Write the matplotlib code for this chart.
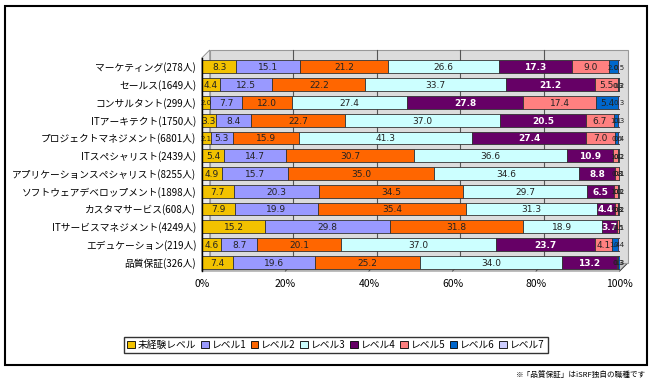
import numpy as np
import matplotlib
matplotlib.use("Agg")
import matplotlib.pyplot as plt
import matplotlib.transforms as mtransforms
from matplotlib.patches import Rectangle, Polygon

plt.rcParams['font.family'] = ['Noto Sans CJK JP', 'DejaVu Sans']

categories = [
    'マーケティング(278人)', 'セールス(1649人)', 'コンサルタント(299人)',
    'ITアーキテクト(1750人)', 'プロジェクトマネジメント(6801人)', 'ITスペシャリスト(2439人)',
    'アプリケーションスペシャリスト(8255人)', 'ソフトウェアデベロップメント(1898人)',
    'カスタマサービス(608人)', 'ITサービスマネジメント(4249人)', 'エデュケーション(219人)',
    '品質保証(326人)',
]
levels = ['未経験レベル', 'レベル1', 'レベル2', 'レベル3', 'レベル4', 'レベル5', 'レベル6', 'レベル7']

# one list per level, values in % per category (top to bottom)
lv0 = [8.3, 4.4, 2.0, 3.3, 2.1, 5.4, 4.9, 7.7, 7.9, 15.2, 4.6, 7.4]
lv1 = [15.1, 12.5, 7.7, 8.4, 5.3, 14.7, 15.7, 20.3, 19.9, 29.8, 8.7, 19.6]
lv2 = [21.2, 22.2, 12.0, 22.7, 15.9, 30.7, 35.0, 34.5, 35.4, 31.8, 20.1, 25.2]
lv3 = [26.6, 33.7, 27.4, 37.0, 41.3, 36.6, 34.6, 29.7, 31.3, 18.9, 37.0, 34.0]
lv4 = [17.3, 21.2, 27.8, 20.5, 27.4, 10.9, 8.8, 6.5, 4.4, 3.7, 23.7, 13.2]
lv5 = [9.0, 5.5, 17.4, 6.7, 7.0, 1.4, 0.8, 1.0, 0.8, 0.5, 4.1, 0.3]
lv6 = [2.0, 0.3, 5.4, 1.1, 0.6, 0.2, 0.1, 0.2, 0.2, 0.1, 1.4, 0.3]
lv7 = [0.5, 0.2, 0.3, 0.3, 0.4, 0.1, 0.1, 0.1, 0.1, 0.0, 0.4, 0.0]
series = [lv0, lv1, lv2, lv3, lv4, lv5, lv6, lv7]

colors = ['#F2C200', '#9999FF', '#FF6600', '#CCFFFF', '#660066', '#FF8080', '#0066CC', '#CCCCFF']

fig = plt.figure(figsize=(6.55, 3.84), dpi=100)
ax = fig.add_axes([0.308, 0.294, 0.638, 0.555])
ax.set_xlim(0, 100)
ax.set_ylim(11.5, -0.5)

# 3D-ish back wall, floor and side
dx, dy = 8, 8
back = mtransforms.offset_copy(ax.transData, fig=fig, x=dx, y=dy, units='dots')
ax.add_patch(Rectangle((0, -0.5), 100, 12, transform=back, facecolor='#DCDCDC',
                       edgecolor='#999999', lw=0.8, zorder=0, clip_on=False))
for g in [20, 40, 60, 80]:
    ax.plot([g, g], [-0.5, 11.5], transform=back, color='#555555', lw=0.8,
            zorder=0.5, clip_on=False)
# floor and left side (drawn behind the axes)
fx0, fy0 = ax.transData.transform((0, 11.5))
fx1, fy1 = ax.transData.transform((100, 11.5))
tx0, ty0 = ax.transData.transform((0, -0.5))
inv = fig.transFigure.inverted()
floor = [(fx0, fy0), (fx1, fy1), (fx1 + dx, fy1 + dy), (fx0 + dx, fy0 + dy)]
side = [(tx0, ty0), (fx0, fy0), (fx0 + dx, fy0 + dy), (tx0 + dx, ty0 + dy)]
for pts, fc in [(floor, '#C8C8C8'), (side, '#EBEBEB')]:
    fig.patches.append(Polygon([inv.transform(p) for p in pts], closed=True,
                               transform=fig.transFigure, facecolor=fc,
                               edgecolor='#888888', lw=0.6, zorder=-1))
for g in [20, 40, 60, 80, 100]:
    gx, gy = ax.transData.transform((g, 11.5))
    fig.lines.append(plt.Line2D([inv.transform((gx, gy))[0], inv.transform((gx + dx, gy + dy))[0]],
                                [inv.transform((gx, gy))[1], inv.transform((gx + dx, gy + dy))[1]],
                                transform=fig.transFigure, color='#444444', lw=0.6, zorder=-0.5))

y = np.arange(len(categories))
left = np.zeros(len(categories))
for i, vals in enumerate(series):
    vals = np.array(vals)
    ax.barh(y, vals, left=left, height=0.72, color=colors[i], edgecolor='#333333',
            lw=0.6, label=levels[i], zorder=2)
    for j, v in enumerate(vals):
        if v <= 0:
            continue
        tc = 'white' if i == 4 else '#222222'
        fw = 'bold' if i == 4 else 'normal'
        fs = 6.5 if v >= 2.5 else 5
        ax.text(left[j] + v / 2, y[j] + 0.05, f'{v:.1f}', ha='center', va='center',
                fontsize=fs, color=tc, fontweight=fw, zorder=3, family='DejaVu Sans')
    left += vals

ax.set_yticks(y)
ax.set_yticklabels(categories, fontsize=7)
ax.set_xticks([0, 20, 40, 60, 80, 100])
ax.set_xticklabels(['0%', '20%', '40%', '60%', '80%', '100%'], fontsize=7.5)
ax.tick_params(axis='y', length=0, pad=4)
ax.tick_params(axis='x', length=0, pad=6)
for s in ['top', 'right', 'bottom']:
    ax.spines[s].set_visible(False)
ax.spines['left'].set_color('black')
ax.spines['left'].set_linewidth(1.0)
ax.spines['left'].set_zorder(4)
ax.patch.set_alpha(0)

leg = fig.legend(loc='center', bbox_to_anchor=(336 / 655, 1 - 345 / 384), ncol=8,
                 fontsize=7, frameon=True, fancybox=False, edgecolor='black',
                 handlelength=0.8, handleheight=0.8, handletextpad=0.3,
                 columnspacing=0.45, borderpad=0.3)
leg.get_frame().set_linewidth(1.0)
for h in leg.legend_handles:
    h.set_edgecolor('black')
    h.set_linewidth(0.6)

# outer frame
fig.patches.append(Rectangle((5 / 655, 1 - 365 / 384), 642 / 655, 359 / 384,
                             transform=fig.transFigure, fill=False,
                             edgecolor='black', lw=1.5))
fig.text(646 / 655, 1 - 375 / 384, '※「品質保証」はiSRF独自の職種です', ha='right',
         va='center', fontsize=5.5)

fig.savefig('out.png', dpi=100)
